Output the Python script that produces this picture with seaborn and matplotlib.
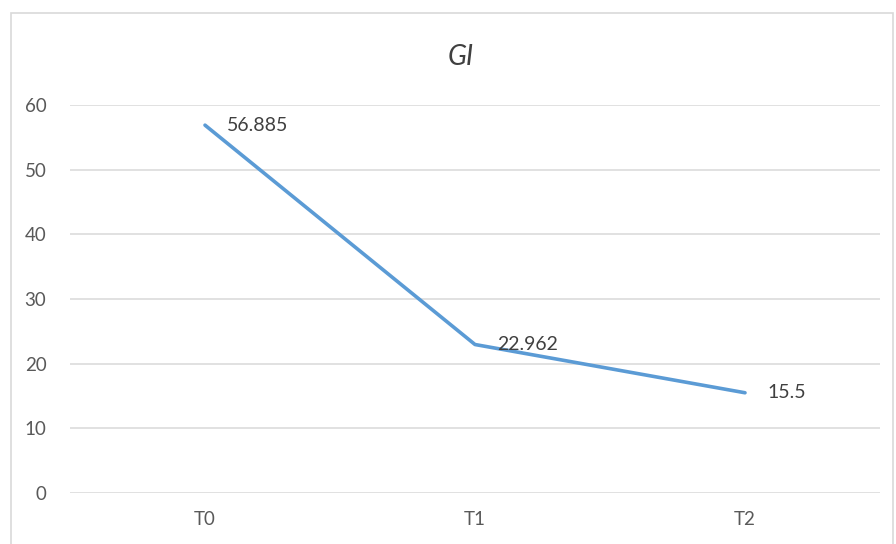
import matplotlib
matplotlib.use("Agg")
import matplotlib.pyplot as plt
import seaborn as sns
import pandas as pd
from matplotlib.patches import Rectangle

# GI values at each time point
stages = ["T0", "T1", "T2"]
gi_values = [56.885, 22.962, 15.5]
value_labels = ["56.885", "22.962", "15.5"]
y_ticks = [0, 10, 20, 30, 40, 50, 60]

sns.set_theme(style="white")
plt.rcParams["font.family"] = ["Lato", "DejaVu Sans"]

text_color = "#595959"
grid_color = "#D9D9D9"
line_color = "#5B9BD5"

fig = plt.figure(figsize=(8.96, 5.44), dpi=100)
fig.patch.set_facecolor("white")

# chart frame
fig.add_artist(Rectangle((11 / 896, -0.05), (893 - 11) / 896, (544 - 13) / 544 + 0.05,
                         transform=fig.transFigure, fill=False,
                         edgecolor=grid_color, linewidth=1.2))

ax = fig.add_axes([70 / 896, 51 / 544, 810 / 896, 388 / 544])

df = pd.DataFrame({"stage": stages, "GI": gi_values})
df["pos"] = range(len(stages))
sns.lineplot(data=df, x="pos", y="GI", ax=ax, color=line_color,
             linewidth=2.6, sort=False)

ax.set_xlim(-0.5, len(stages) - 0.5)
ax.set_ylim(0, 60)
ax.set_xticks(range(len(stages)))
ax.set_xticklabels(stages)
ax.set_yticks(y_ticks)
ax.set_xlabel("")
ax.set_ylabel("")

ax.yaxis.grid(True, color=grid_color, linewidth=1.1)
ax.set_axisbelow(True)
for s in ax.spines.values():
    s.set_visible(False)
ax.tick_params(axis="both", length=0, colors=text_color, labelsize=13.5)
ax.tick_params(axis="y", pad=17)
ax.tick_params(axis="x", pad=13)

for x, y, lab in zip(df["pos"], df["GI"], value_labels):
    ax.annotate(lab, (x, y), xytext=(16, 0), textcoords="offset points",
                ha="left", va="center", fontsize=14, color="#404040")

fig.text(461 / 896, 1 - 57 / 544, "GI", ha="center", va="center",
         fontsize=20, style="italic", color="#404040")

fig.savefig("out.png", dpi=100)
